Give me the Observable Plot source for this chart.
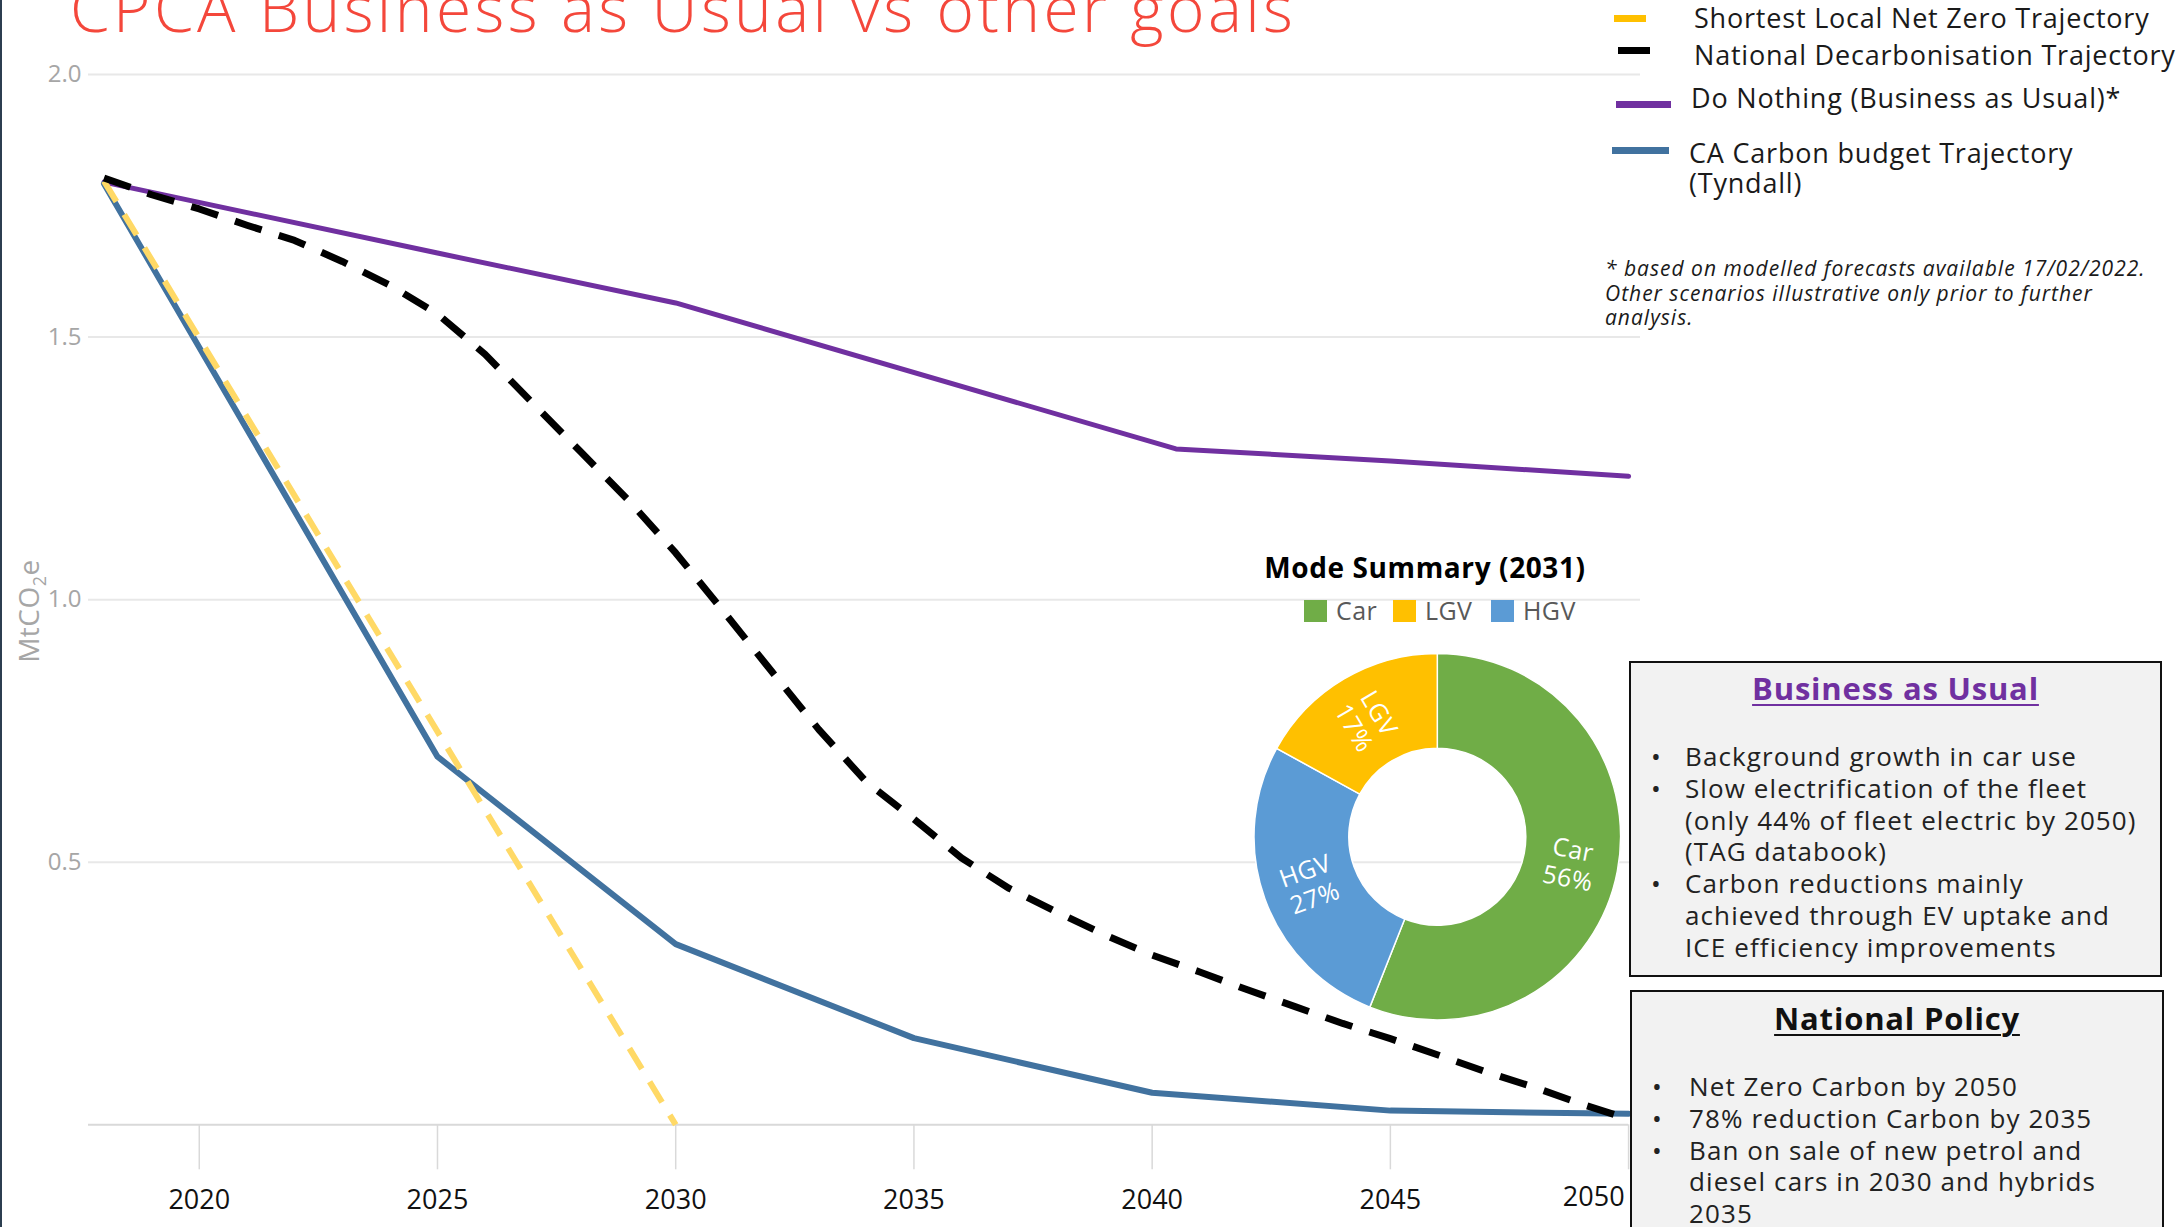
<!DOCTYPE html>
<html><head><meta charset="utf-8">
<script src="https://cdn.jsdelivr.net/npm/d3@7"></script>
<script src="https://cdn.jsdelivr.net/npm/@observablehq/plot@0.6"></script>
<style>
html,body{margin:0;padding:0;background:#fff;}
#wrap{position:relative;width:2176px;height:1227px;overflow:hidden;font-family:"Open Sans",sans-serif;background:#fff;color:#1a1a1a;}
#wrap > *{position:absolute;}
.title{left:70px;top:-24px;font-size:64px;line-height:64px;font-weight:300;letter-spacing:3.4px;color:#f4473b;white-space:nowrap;}
.lg{font-size:27px;line-height:32px;letter-spacing:0.8px;white-space:nowrap;color:#1a1a1a;}
.sw{height:7px;}
.note{left:1605px;top:256px;font-size:21px;line-height:24.5px;letter-spacing:1px;font-style:italic;color:#1a1a1a;white-space:nowrap;}
.ylab{left:30px;top:611px;font-size:28px;color:#a6a6a6;transform:translate(-50%,-50%) rotate(-90deg);white-space:nowrap;letter-spacing:0.5px;}
.box{background:#f2f2f2;border:2px solid #111;box-sizing:border-box;}
.box .bt{position:absolute;left:0;right:0;text-align:center;font-weight:700;font-size:31px;line-height:36px;letter-spacing:0.8px;text-decoration:underline;text-decoration-thickness:2px;text-underline-offset:4px;}
.box .items{position:absolute;font-size:26px;line-height:31.8px;letter-spacing:1.1px;white-space:nowrap;color:#222;}
.box .it{position:relative;}
.box .it .b{position:absolute;}
.edge{left:0;top:0;width:2px;height:1227px;background:#2c3e50;}
</style></head><body><div id="wrap">
<div class="edge"></div>
<div class="title">CPCA Business as Usual vs other goals</div>
<div class="ylab">MtCO<sub style="font-size:18px">2</sub>e</div>
<div class="sw" style="left:1614px;top:15px;width:32px;background:#ffc000"></div>
<div class="lg" style="left:1694px;top:2px">Shortest Local Net Zero Trajectory</div>
<div class="sw" style="left:1618px;top:46.5px;width:32px;background:#000"></div>
<div class="lg" style="left:1694px;top:39px">National Decarbonisation Trajectory</div>
<div class="sw" style="left:1616px;top:100.5px;width:55px;background:#7030a0"></div>
<div class="lg" style="left:1691px;top:82px">Do Nothing (Business as Usual)*</div>
<div class="sw" style="left:1612px;top:146.5px;width:57px;background:#41729f"></div>
<div class="lg" style="left:1689px;top:138px;line-height:30px">CA Carbon budget Trajectory<br>(Tyndall)</div>
<div class="note">* based on modelled forecasts available 17/02/2022.<br>Other scenarios illustrative only prior to further<br>analysis.</div>
<div id="plot" style="left:0;top:0"></div>
<svg id="donut" width="2176" height="1227" style="left:0;top:0"></svg>
<div class="box" style="left:1629px;top:661px;width:533px;height:316px">
  <div class="bt" style="top:7.4px;color:#7030a0">Business as Usual</div>
  <div class="items" style="top:78px;left:0;">
    <div class="it"><span class="b" style="left:20px">•</span><div style="padding-left:54px">Background growth in car use</div></div>
    <div class="it"><span class="b" style="left:20px">•</span><div style="padding-left:54px">Slow electrification of the fleet<br>(only 44% of fleet electric by 2050)<br>(TAG databook)</div></div>
    <div class="it"><span class="b" style="left:20px">•</span><div style="padding-left:54px">Carbon reductions mainly<br>achieved through EV uptake and<br>ICE efficiency improvements</div></div>
  </div>
</div>
<div class="box" style="left:1630px;top:990px;width:534px;height:260px">
  <div class="bt" style="top:8.4px;color:#111">National Policy</div>
  <div class="items" style="top:79px;left:0;">
    <div class="it"><span class="b" style="left:20px">•</span><div style="padding-left:57px">Net Zero Carbon by 2050</div></div>
    <div class="it"><span class="b" style="left:20px">•</span><div style="padding-left:57px">78% reduction Carbon by 2035</div></div>
    <div class="it"><span class="b" style="left:20px">•</span><div style="padding-left:57px">Ban on sale of new petrol and<br>diesel cars in 2030 and hybrids<br>2035</div></div>
  </div>
</div>
</div>
<script>
// ---- data ----
const xTicks = [2020, 2025, 2030, 2035, 2040, 2045, 2050];
const yTicks = [0.5, 1.0, 1.5, 2.0];

const shortestYears = [2018, 2030];
const shortestValues = [1.797, 0.0];

const nationalYears = d3.range(2018, 2051);
const nationalValues = [1.803,1.771,1.744,1.713,1.684,1.644,1.599,1.544,1.467,1.374,1.282,1.190,1.089,0.978,0.865,0.753,0.653,0.582,0.508,0.450,0.405,0.362,0.323,0.291,0.257,0.225,0.193,0.164,0.133,0.101,0.072,0.040,0.011];

const bauYears = [2018, 2025, 2030, 2040.5, 2045, 2050];
const bauValues = [1.795, 1.660, 1.565, 1.287, 1.264, 1.235];

const tyndallYears = [2018, 2025, 2030, 2035, 2040, 2045, 2050];
const tyndallValues = [1.792, 0.701, 0.344, 0.165, 0.061, 0.027, 0.021];

const modes = ["Car", "LGV", "HGV"];
const modeShares = [56, 17, 27];
const modeColors = ["#70ad47", "#ffc000", "#5b9bd5"];
const pieOrder = ["Car", "HGV", "LGV"];

const rows = (xs, ys) => xs.map((x, i) => ({year: x, value: ys[i]}));

// ---- chart ----
const chart = Plot.plot({
  width: 2176, height: 1227,
  marginLeft: 88, marginRight: 536, marginTop: 74, marginBottom: 102.7,
  style: {fontFamily: "Open Sans, sans-serif", background: "transparent", overflow: "visible"},
  x: {domain: [2017.675, 2050.25]},
  y: {domain: [0, 2]},
  marks: [
    Plot.ruleY(yTicks, {stroke: "#e8e8e8", strokeWidth: 2}),
    Plot.ruleY([0], {x1: 2017.675, x2: 2050, stroke: "#d9d9d9", strokeWidth: 2}),
    Plot.axisX(xTicks, {anchor: "bottom", tickSize: 45, tickPadding: 20, stroke: "#d9d9d9", strokeWidth: 1.5, fill: "#111", fontSize: 27, letterSpacing: 1, tickFormat: d => d === 2050 ? "" : String(d), label: null}),
    Plot.text([2050], {x: d => d, frameAnchor: "bottom", textAnchor: "end", dx: -4, dy: 81, fill: "#111", fontSize: 27, text: d => String(d), style: "letter-spacing:1px"}),
    Plot.axisY(yTicks, {anchor: "left", tickSize: 0, tickPadding: 7, fill: "#a6a6a6", fontSize: 24, tickFormat: d => d.toFixed(1), label: null}),
    Plot.line(rows(bauYears, bauValues), {x: "year", y: "value", stroke: "#7030a0", strokeWidth: 5}),
    Plot.line(rows(tyndallYears, tyndallValues), {x: "year", y: "value", stroke: "#41729f", strokeWidth: 6}),
    Plot.line(rows(shortestYears, shortestValues), {x: "year", y: "value", stroke: "#ffd966", strokeWidth: 6, strokeDasharray: "24,15", strokeLinecap: "butt"}),
    Plot.line(rows(nationalYears, nationalValues), {x: "year", y: "value", stroke: "#000", strokeWidth: 7, strokeDasharray: "28,18", strokeLinecap: "butt"})
  ]
});
document.getElementById("plot").appendChild(chart);

// ---- donut ----
const svg = d3.select("#donut");
const cx = 1437.3, cy = 836.7;
const data = pieOrder.map(m => ({mode: m, share: modeShares[modes.indexOf(m)], color: modeColors[modes.indexOf(m)]}));
const pie = d3.pie().sort(null).value(d => d.share)(data);
const arc = d3.arc().innerRadius(88.5).outerRadius(183.3);
const g = svg.append("g").attr("transform", `translate(${cx},${cy})`);
g.selectAll("path").data(pie).join("path")
  .attr("d", arc).attr("fill", d => d.data.color).attr("stroke", "#fff").attr("stroke-width", 1.5);
const lab = g.selectAll("g.lab").data(pie).join("g").attr("class", "lab")
  .attr("transform", d => {
    const [x, y] = arc.centroid(d);
    const a = (d.startAngle + d.endAngle) / 2 * 180 / Math.PI;
    const r = a < 180 ? a - 90 : a - 270;
    return `translate(${x},${y}) rotate(${r})`;
  });
lab.append("text").attr("text-anchor", "middle").attr("y", -4)
  .attr("fill", "#fff").attr("font-size", 25).attr("letter-spacing", 0.5).attr("font-family", "Open Sans, sans-serif")
  .text(d => d.data.mode);
lab.append("text").attr("text-anchor", "middle").attr("y", 25)
  .attr("fill", "#fff").attr("font-size", 25).attr("letter-spacing", 0.5).attr("font-family", "Open Sans, sans-serif")
  .text(d => d.data.share + "%");

svg.append("text").attr("x", 1425).attr("y", 578).attr("text-anchor", "middle")
  .attr("font-size", 28).attr("font-weight", 700).attr("letter-spacing", 0.6).attr("font-family", "Open Sans, sans-serif").attr("fill", "#000")
  .text("Mode Summary (2031)");
const legX = [1304, 1393, 1491];
modes.forEach((m, i) => {
  svg.append("rect").attr("x", legX[i]).attr("y", 600).attr("width", 23).attr("height", 22).attr("fill", modeColors[i]);
  svg.append("text").attr("x", legX[i] + 32).attr("y", 620).attr("font-size", 25).attr("letter-spacing", 0.4)
    .attr("font-family", "Open Sans, sans-serif").attr("fill", "#595959").text(m);
});
</script>
</body></html>
